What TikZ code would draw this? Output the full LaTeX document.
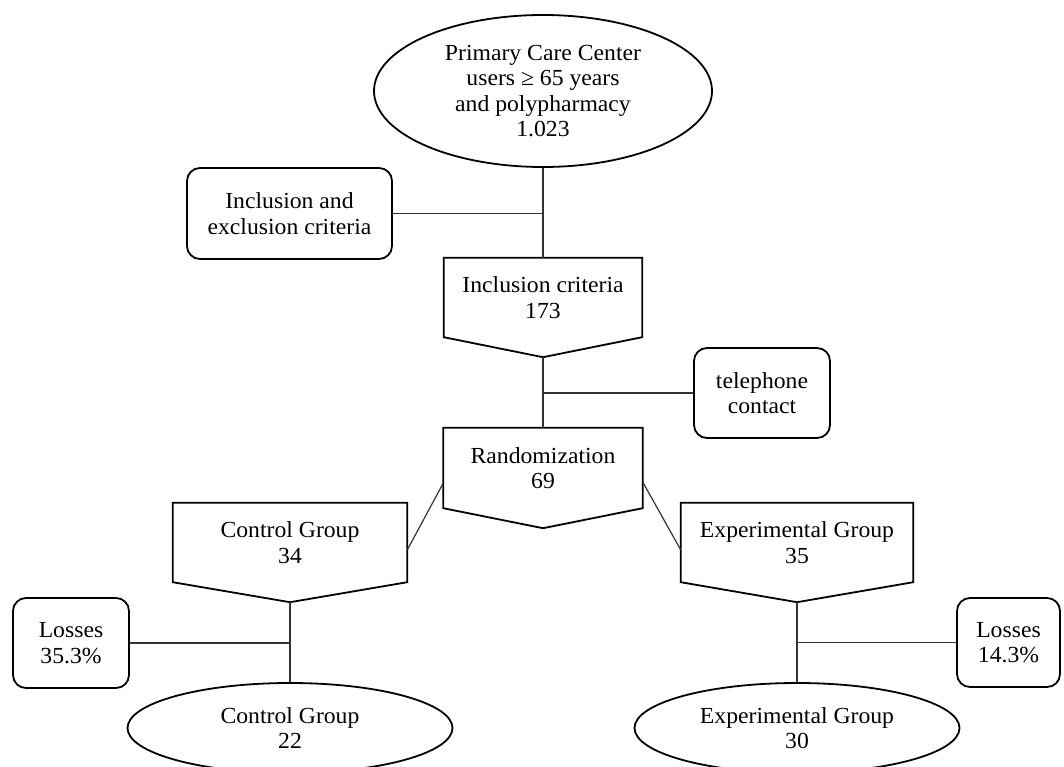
\documentclass[tikz,border=0pt]{standalone}
\usepackage{fontspec}
\setmainfont[FakeStretch=1.03]{Liberation Serif}
\usetikzlibrary{shapes.geometric,calc}
\tikzset{
  every node/.style={font=\fontsize{23}{25.5}\selectfont, align=center, inner sep=0pt},
  shapeline/.style={draw=black, line width=1.8pt},
  oval/.style={shapeline, ellipse},
  roundbox/.style={shapeline, rectangle, rounded corners=13pt},
  penta/.style={rectangle},
  pentaline/.style={shapeline, line join=miter},
  link/.style={draw=black!80, line width=1.2pt}
}
\begin{document}
\begin{tikzpicture}[x=1pt,y=-1pt]
\useasboundingbox (0,0) rectangle (1064,767);
% nodes
\node[oval, minimum width=338pt, minimum height=152pt] (top) at (543,91)
  {Primary Care Center\\users ≥ 65 years\\and polypharmacy\\1.023};
\node[roundbox, minimum width=205pt, minimum height=91pt] (excl) at (289.5,213.5)
  {Inclusion and\\exclusion criteria};
\node[penta, minimum width=198pt, minimum height=79pt] (inc) at (543,297.5)
  {Inclusion criteria\\173};
\node[roundbox, minimum width=136pt, minimum height=90pt] (tel) at (762,393)
  {telephone\\contact};
\node[penta, minimum width=199pt, minimum height=80pt] (rand) at (543,468)
  {Randomization\\69};
\node[penta, minimum width=234pt, minimum height=79pt] (ctl) at (290,542.5)
  {Control Group\\34};
\node[penta, minimum width=232pt, minimum height=79pt] (exp) at (797,542.5)
  {Experimental Group\\35};
\node[roundbox, minimum width=116pt, minimum height=90pt] (lossL) at (71,643)
  {Losses\\35.3\%};
\node[roundbox, minimum width=103pt, minimum height=89pt] (lossR) at (1008.5,642.5)
  {Losses\\14.3\%};
\node[oval, minimum width=325pt, minimum height=90pt] (ctlE) at (290,728)
  {Control Group\\22};
\node[oval, minimum width=325pt, minimum height=90pt] (expE) at (797,728)
  {Experimental Group\\30};
% pentagon outlines
\foreach \n in {inc,rand,ctl,exp}{
  \coordinate (\n P) at ($(\n.south)+(0,20)$);
  \draw[pentaline] (\n.north west) -- (\n.north east) -- (\n.south east)
    -- (\n P) -- (\n.south west) -- cycle;
}
% connectors
\draw[link] (top.south) -- (inc.north);
\draw[link] (excl.east) -- (excl.east -| top.south);
\draw[link] (incP) -- (rand.north);
\draw[link] (tel.west) -- (tel.west -| rand.north);
\draw[link] ($(rand.west)+(0,15)$) -- ($(ctl.east)+(0,7.5)$);
\draw[link] ($(rand.east)+(0,14)$) -- ($(exp.west)+(0,7.5)$);
\draw[link] (ctlP) -- (ctlE.north);
\draw[link] (lossL.east) -- (lossL.east -| ctlP);
\draw[link] (expP) -- (expE.north);
\draw[link] (lossR.west) -- (lossR.west -| expP);
\end{tikzpicture}
\end{document}
